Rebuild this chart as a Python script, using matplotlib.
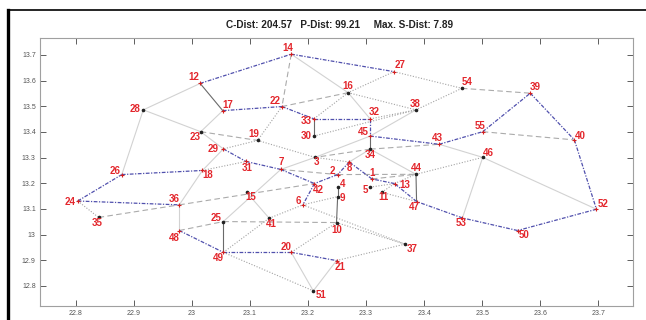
import matplotlib
matplotlib.use("Agg")
from matplotlib import pyplot as plt
from matplotlib.lines import Line2D

# node coordinates (longitude, latitude)
node_ids = list(range(1, 56))
node_x = [23.310, 23.251, 23.212, 23.251, 23.307, 23.191, 23.153, 23.271, 23.251, 23.249,
          23.327, 23.014, 23.349, 23.171, 23.094, 23.269, 23.053, 23.018, 23.113, 23.171,
          23.249, 23.155, 23.015, 22.803, 23.054, 22.879, 23.348, 22.916, 23.054, 23.210,
          23.093, 23.307, 23.210, 23.307, 22.839, 22.978, 23.367, 23.386, 23.583, 23.659,
          23.133, 23.211, 23.426, 23.386, 23.307, 23.501, 23.387, 22.978, 23.054, 23.561,
          23.209, 23.697, 23.466, 23.465, 23.501]
node_y = [13.217, 13.234, 13.301, 13.185, 13.185, 13.116, 13.254, 13.283, 13.148, 13.047,
          13.165, 13.589, 13.199, 13.703, 13.165, 13.553, 13.483, 13.250, 13.367, 12.931,
          12.899, 13.499, 13.401, 13.131, 13.051, 13.234, 13.635, 13.486, 13.334, 13.384,
          13.285, 13.451, 13.451, 13.333, 13.067, 13.116, 12.963, 13.486, 13.551, 13.369,
          13.064, 13.199, 13.352, 13.235, 13.384, 13.301, 13.129, 13.016, 12.931, 13.016,
          12.781, 13.099, 13.065, 13.570, 13.401]

# links by drawing style
route_edges = [(24, 26), (26, 18), (24, 36), (12, 14), (14, 27), (17, 22), (22, 33), (33, 32),
               (32, 45), (45, 43), (43, 55), (55, 39), (39, 40), (40, 52), (52, 50), (50, 53),
               (53, 47), (47, 13), (13, 1), (1, 8), (8, 2), (2, 42), (7, 42), (42, 6),
               (29, 31), (31, 7), (48, 49), (49, 20), (20, 21)]
dark_edges = [(33, 30), (45, 34), (4, 9), (9, 10), (44, 47), (25, 49), (12, 17)]
dotted_edges = [(27, 16), (27, 54), (54, 38), (16, 38), (16, 33), (32, 38), (30, 38), (22, 19),
                (19, 29), (19, 3), (18, 31), (24, 35), (3, 8), (5, 13), (11, 13), (11, 47),
                (44, 13), (44, 46), (6, 9), (6, 37), (10, 37), (21, 37), (10, 20), (49, 51),
                (49, 41), (41, 6)]
dashed_edges = [(14, 22), (16, 22), (54, 39), (55, 40), (23, 19), (34, 3), (34, 43), (35, 36),
                (36, 42), (48, 25), (25, 10), (7, 2), (2, 44), (1, 44)]
light_edges = [(14, 16), (16, 32), (45, 38), (3, 45), (28, 12), (28, 23), (28, 26), (17, 23),
               (23, 29), (29, 18), (18, 36), (36, 48), (7, 3), (25, 7), (46, 53), (43, 46),
               (46, 52), (20, 51), (21, 51), (34, 44), (8, 34), (15, 41)]

title_text = "C-Dist: 204.57   P-Dist: 99.21     Max. S-Dist: 7.89"
x_ticks = [22.8, 22.9, 23.0, 23.1, 23.2, 23.3, 23.4, 23.5, 23.6, 23.7]
x_tick_labels = ["22.8", "22.9", "23", "23.1", "23.2", "23.3", "23.4", "23.5", "23.6", "23.7"]
y_ticks = [12.8, 12.9, 13.0, 13.1, 13.2, 13.3, 13.4, 13.5, 13.6, 13.7]
y_tick_labels = ["12.8", "12.9", "13", "13.1", "13.2", "13.3", "13.4", "13.5", "13.6", "13.7"]

# label offsets in pixels (dx right, dy down)
label_offsets = {
    1: (0, -6), 2: (-5, -4), 3: (1, 5), 4: (5, -3), 5: (-5, 3), 6: (-4, -4), 7: (1, -7),
    8: (0, 6), 9: (5, 1), 10: (0, 7), 11: (2, 5), 12: (-6, -6), 13: (10, 1), 14: (-3, -6),
    15: (4, 5), 16: (0, -7), 17: (5, -6), 18: (5, 5), 19: (-4, -6), 20: (-5, -5), 21: (4, 6),
    22: (-7, -6), 23: (-6, 5), 24: (-8, 1), 25: (-7, -4), 26: (-7, -4), 27: (6, -7),
    28: (-8, -1), 29: (-10, 0), 30: (-8, 0), 31: (1, 7), 32: (4, -7), 33: (-8, 2), 34: (0, 6),
    35: (-1, 6), 36: (-5, -6), 37: (7, 5), 38: (-1, -6), 39: (5, -6), 40: (6, -4), 41: (2, 6),
    42: (4, 6), 43: (-2, -6), 44: (0, -6), 45: (-7, -4), 46: (6, -4), 47: (-2, 5), 48: (-5, 7),
    49: (-5, 6), 50: (7, 4), 51: (8, 4), 52: (7, -5), 53: (-1, 5), 54: (5, -6), 55: (-3, -6),
}

plt.rcParams["font.family"] = ["Liberation Sans", "DejaVu Sans"]

fig = plt.figure(figsize=(6.46, 3.2), dpi=100)
W, H = 646, 320
ax = fig.add_axes([40 / W, (H - 306) / H, (633 - 40) / W, (306 - 38) / H])

pos = {n: (x, y) for n, x, y in zip(node_ids, node_x, node_y)}


def draw_edges(edges, **style):
    for a, b in edges:
        ax.plot([pos[a][0], pos[b][0]], [pos[a][1], pos[b][1]], zorder=1, **style)


draw_edges(light_edges, color="#d2d2d2", lw=0.8, linestyle="-")
draw_edges(dotted_edges, color="#a3a3a3", lw=0.8, linestyle=(0, (1, 1.5)))
draw_edges(dashed_edges, color="#ababab", lw=0.8, linestyle=(0, (5, 3)))
draw_edges(dark_edges, color="#6a6a6a", lw=0.8, linestyle="-")
draw_edges(route_edges, color="#5050ad", lw=0.9, linestyle=(0, (3, 1.2, 1, 1.2)))

route_nodes = {n for e in route_edges for n in e}
for n in node_ids:
    x, y = pos[n]
    if n in route_nodes:
        ax.plot(x, y, marker="+", color="#d42020", ms=3, mew=0.8, zorder=3)
    else:
        ax.plot(x, y, marker="o", color="#222222", ms=1.6, zorder=3)
    dx, dy = label_offsets[n]
    ax.annotate(str(n), (x, y), xytext=(dx, -dy), textcoords="offset pixels",
                ha="center", va="center", fontsize=7, fontweight="bold",
                color="#e3262c", zorder=4)

ax.set_xlim(22.738, 23.760)
ax.set_ylim(12.722, 13.766)
ax.set_xticks(x_ticks)
ax.set_xticklabels(x_tick_labels)
ax.set_yticks(y_ticks)
ax.set_yticklabels(y_tick_labels)
ax.tick_params(direction="in", length=4, width=0.6, color="#444444", labelsize=5,
               labelcolor="#555555", top=True, right=True, pad=3)
for spine in ax.spines.values():
    spine.set_color("#a0a0a0")
    spine.set_linewidth(0.8)

fig.text(340 / W, 1 - 25 / H, title_text, ha="center", va="center",
         fontsize=7.2, fontweight="bold", color="#222222")

# outer frame lines
fig.add_artist(Line2D([7.5 / W, 7.5 / W], [0, 1 - 10 / H], color="black", lw=2.4))
fig.add_artist(Line2D([7.5 / W, 1], [1 - 10 / H, 1 - 10 / H], color="black", lw=1.2))

fig.savefig("out.png", dpi=100)
